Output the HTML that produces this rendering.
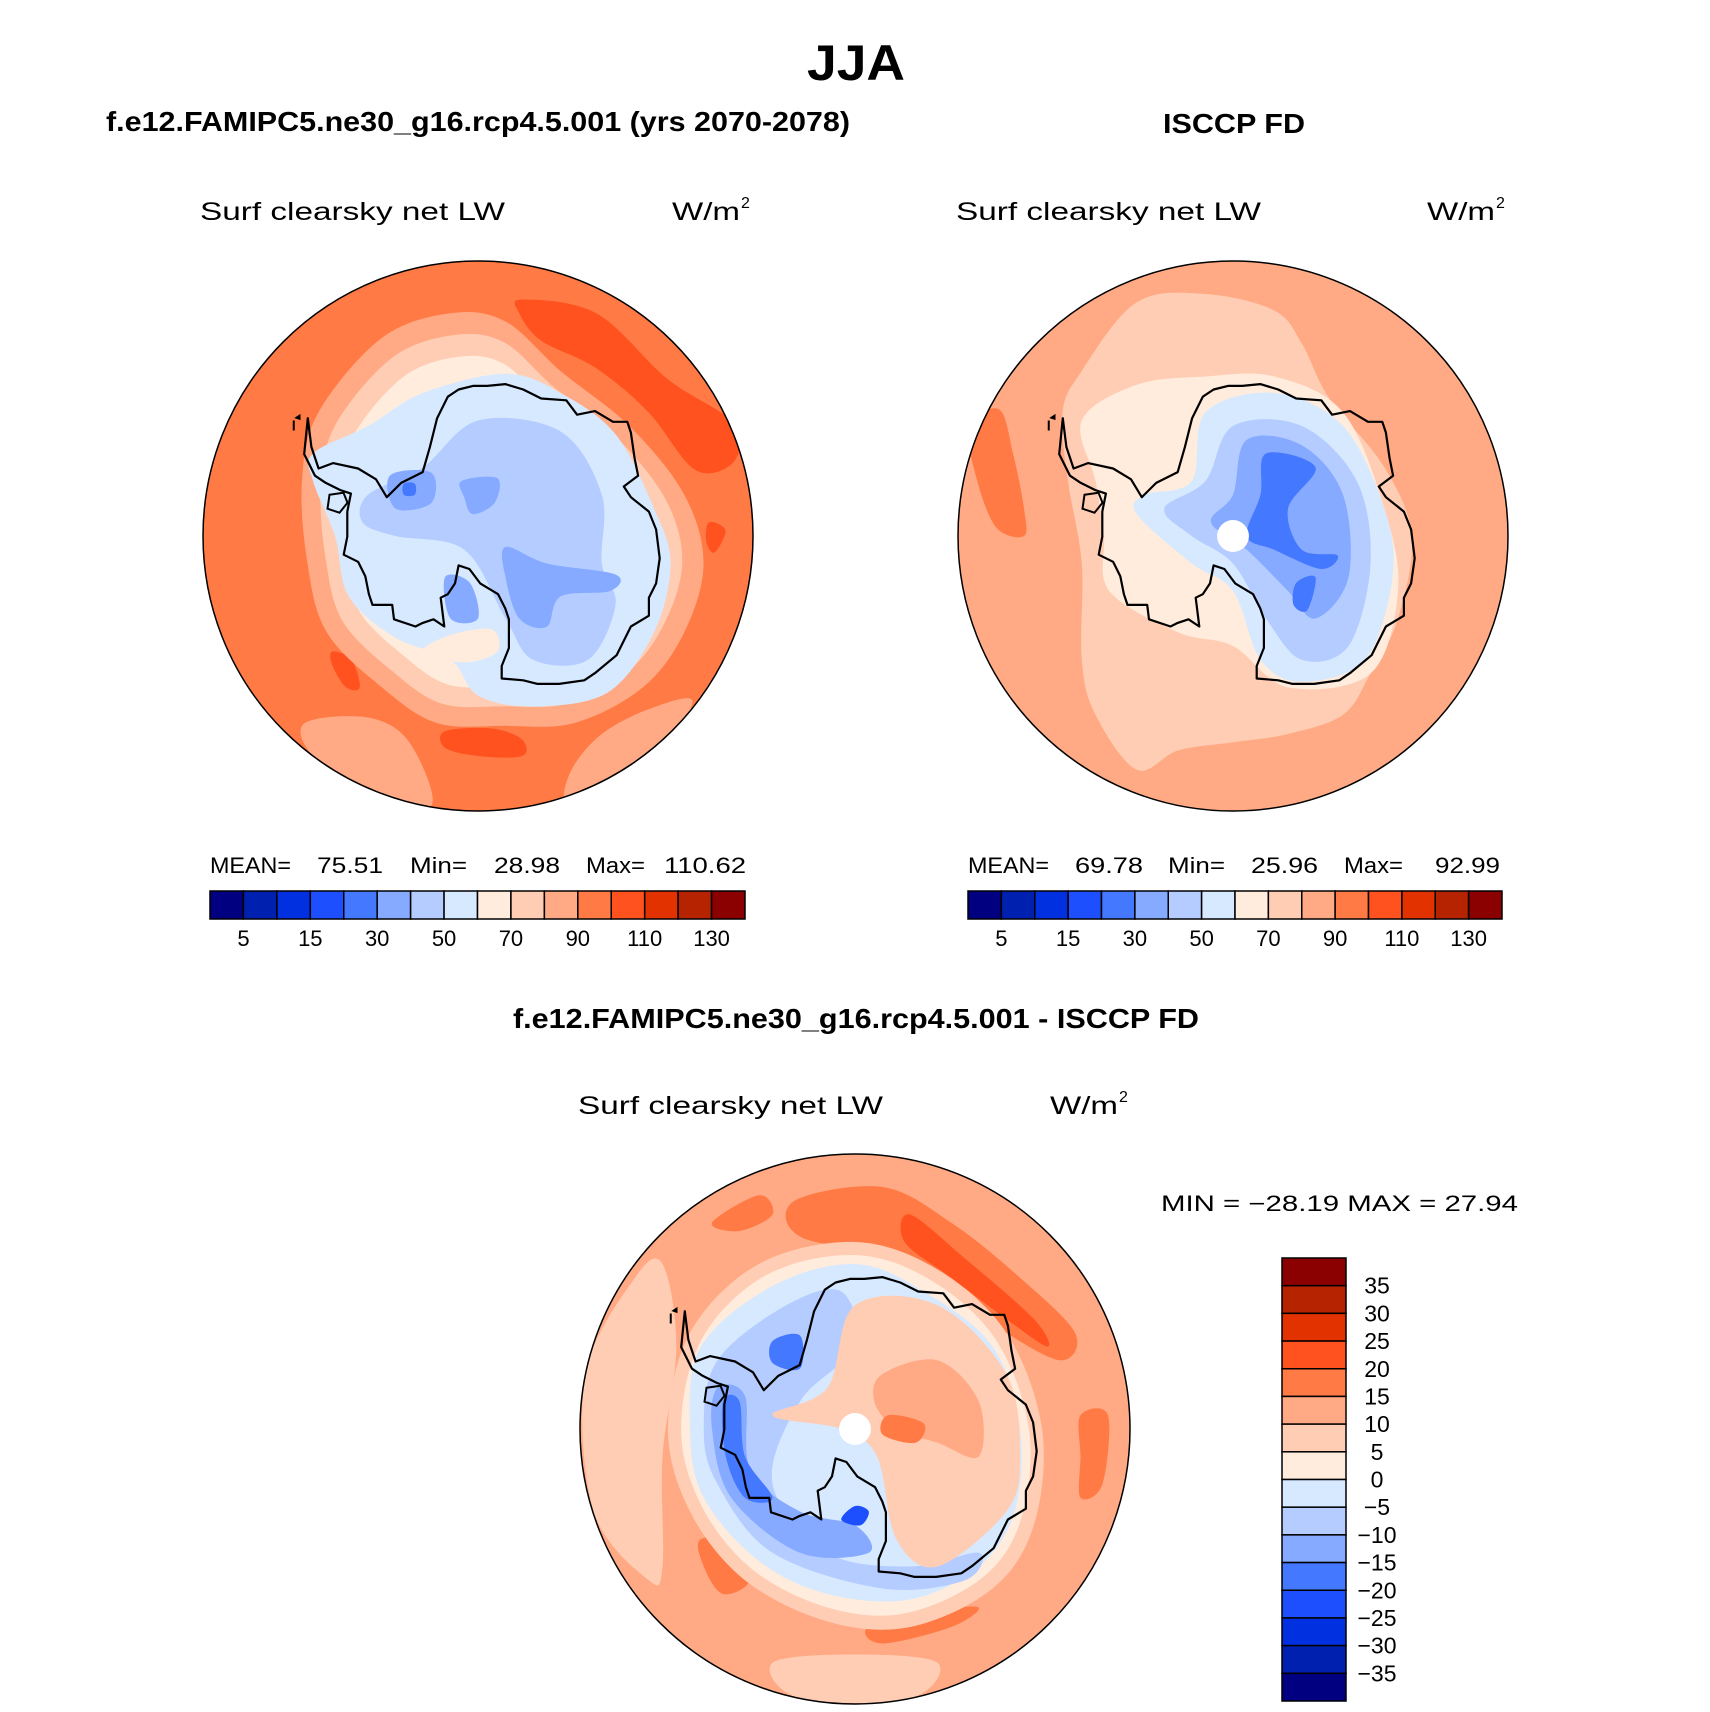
<!DOCTYPE html>
<html><head><meta charset="utf-8"><style>
html,body{margin:0;padding:0;background:#fff;}
svg{display:block;}
text{font-family:"Liberation Sans","DejaVu Sans",sans-serif;}
</style></head>
<body>
<svg id="fig" width="1710" height="1712" viewBox="0 0 1710 1712" xmlns="http://www.w3.org/2000/svg">
<text x="856" y="80" text-anchor="middle" font-size="50" font-weight="bold" textLength="98" lengthAdjust="spacingAndGlyphs">JJA</text>
<text x="106" y="131" font-size="28" font-weight="bold" textLength="744" lengthAdjust="spacingAndGlyphs">f.e12.FAMIPC5.ne30_g16.rcp4.5.001 (yrs 2070-2078)</text>
<text x="1234" y="133" text-anchor="middle" font-size="28" font-weight="bold" textLength="142" lengthAdjust="spacingAndGlyphs">ISCCP FD</text>
<text x="856" y="1028" text-anchor="middle" font-size="28" font-weight="bold" textLength="686" lengthAdjust="spacingAndGlyphs">f.e12.FAMIPC5.ne30_g16.rcp4.5.001 - ISCCP FD</text>
<g id="maps"></g>
<g id="bars"></g>
</svg>
<script>
const NS="http://www.w3.org/2000/svg";
const colors=["#000080","#0020B0","#0030E0","#1E4FFF","#4478FF","#85AAFF","#B4CCFF","#D6E9FF","#FFECDC","#FFCDB4","#FFAA85","#FF7A45","#FF521E","#E23200","#B62300","#8B0000"];
const absLevels=[5,10,15,20,30,40,50,60,70,80,90,100,110,120,130];
const absTickLabels=["5","15","30","50","70","90","110","130"];
const diffLevels=[-35,-30,-25,-20,-15,-10,-5,0,5,10,15,20,25,30,35];
const leftStats=["MEAN=","75.51","Min=","28.98","Max=","110.62"];
const rightStats=["MEAN=","69.78","Min=","25.96","Max=","92.99"];
const diffStats="MIN = \u221228.19  MAX =   27.94";
const coastRaw=[[300,440],[310,520],[330,580],[370,565],[440,580],[490,610],[520,660],[560,620],[620,590],[640,520],[660,440],[690,380],[720,360],[760,350],[800,350],[850,345],[900,360],[950,385],[1020,390],[1050,430],[1100,420],[1150,450],[1190,450],[1200,480],[1210,550],[1220,600],[1180,630],[1200,660],[1250,700],[1270,750],[1280,830],[1270,900],[1250,940],[1250,990],[1200,1020],[1180,1060],[1160,1100],[1100,1150],[1070,1170],[1000,1180],[940,1180],[900,1170],[840,1165],[840,1130],[860,1080],[860,1000],[850,970],[830,930],[780,900],[750,860],[720,850],[710,900],[690,930],[670,940],[680,1020],[650,1000],[620,1010],[600,1020],[540,1000],[535,960],[480,960],[470,930],[460,880],[440,840],[400,820],[410,770],[410,700],[420,650],[390,640],[350,620],[320,600],[290,540]];
const coast=coastRaw.map(p=>[(p[0]-774)/766,(p[1]-768)/766]);
const sc=(pts,s,c)=>pts.map(p=>[c[0]+(p[0]-c[0])*s,c[1]+(p[1]-c[1])*s]);
const ring11L=[[-0.35,-0.72],[-0.1,-0.81],[0.1,-0.78],[0.3,-0.6],[0.55,-0.4],[0.75,-0.15],[0.82,0.1],[0.75,0.35],[0.6,0.55],[0.35,0.68],[0.1,0.69],[-0.15,0.68],[-0.35,0.55],[-0.55,0.35],[-0.62,0.1],[-0.64,-0.2],[-0.58,-0.45]];
const leftRegions=[
 {ci:11,pts:null},
 {ci:12,pts:[[0.16,-0.86],[0.43,-0.81],[0.69,-0.57],[0.93,-0.41],[0.93,-0.27],[0.79,-0.24],[0.62,-0.45],[0.43,-0.61],[0.23,-0.71],[0.15,-0.81]]},
 {ci:12,pts:[[-0.12,0.71],[0.05,0.70],[0.16,0.74],[0.16,0.80],[0.0,0.80],[-0.12,0.77]]},
 {ci:12,pts:[[-0.53,0.42],[-0.46,0.45],[-0.43,0.55],[-0.48,0.55],[-0.53,0.47]]},
 {ci:12,pts:[[0.84,-0.05],[0.9,-0.02],[0.86,0.06],[0.83,0.02]]},
 {ci:10,pts:[[-0.63,0.68],[-0.4,0.66],[-0.25,0.75],[-0.17,0.98],[-0.4,0.93],[-0.6,0.8]]},
 {ci:10,pts:[[0.32,0.97],[0.34,0.85],[0.45,0.72],[0.62,0.63],[0.78,0.6],[0.65,0.8],[0.45,0.93]]},
 {ci:10,pts:ring11L},
 {ci:9,pts:sc(ring11L,0.9,[0.05,-0.02])},
 {ci:8,pts:sc(ring11L,0.8,[0.05,-0.02])},
 {ci:7,pts:[[-0.6,-0.3],[-0.4,-0.4],[-0.2,-0.52],[0.1,-0.59],[0.3,-0.52],[0.5,-0.37],[0.64,-0.1],[0.7,0.1],[0.64,0.35],[0.47,0.57],[0.2,0.62],[0.0,0.58],[-0.1,0.45],[-0.3,0.37],[-0.47,0.22],[-0.52,0.0],[-0.6,-0.2]]},
 {ci:8,pts:[[-0.1,0.36],[0.05,0.34],[0.07,0.42],[-0.05,0.46],[-0.2,0.42]]},
 {ci:6,pts:[[-0.4,-0.15],[-0.2,-0.25],[0.0,-0.42],[0.3,-0.38],[0.45,-0.15],[0.45,0.1],[0.5,0.25],[0.4,0.45],[0.2,0.45],[0.1,0.3],[-0.05,0.05],[-0.3,0.0],[-0.42,-0.05]]},
 {ci:5,pts:[[0.1,0.04],[0.25,0.1],[0.5,0.14],[0.48,0.2],[0.3,0.22],[0.25,0.33],[0.15,0.3],[0.1,0.15]]},
 {ci:5,pts:[[-0.06,-0.2],[0.07,-0.21],[0.06,-0.12],[-0.02,-0.08],[-0.05,-0.14]]},
 {ci:5,pts:[[-0.32,-0.22],[-0.17,-0.23],[-0.17,-0.12],[-0.3,-0.1]]},
 {ci:5,pts:[[-0.12,0.15],[-0.03,0.17],[0.0,0.3],[-0.1,0.3]]},
 {ci:4,pts:[[-0.27,-0.19],[-0.23,-0.19],[-0.23,-0.15],[-0.27,-0.15]]}
];
const rightRegions=[
 {ci:10,pts:null},
 {ci:9,pts:[[-0.55,-0.6],[-0.35,-0.85],[-0.1,-0.88],[0.15,-0.82],[0.25,-0.7],[0.35,-0.5],[0.55,-0.25],[0.65,0.0],[0.6,0.3],[0.5,0.5],[0.4,0.65],[0.2,0.72],[0.0,0.75],[-0.2,0.78],[-0.35,0.85],[-0.5,0.65],[-0.55,0.45],[-0.55,0.1],[-0.6,-0.2],[-0.62,-0.45]]},
 {ci:11,pts:[[-0.96,-0.4],[-0.85,-0.46],[-0.8,-0.3],[-0.76,-0.1],[-0.76,0.0],[-0.86,-0.03],[-0.93,-0.2]]},
 {ci:8,pts:[[-0.55,-0.42],[-0.35,-0.55],[-0.1,-0.58],[0.15,-0.58],[0.4,-0.45],[0.55,-0.1],[0.6,0.2],[0.5,0.5],[0.2,0.55],[0.0,0.4],[-0.2,0.35],[-0.45,0.2],[-0.47,0.0],[-0.5,-0.2]]},
 {ci:7,pts:[[-0.1,-0.45],[0.15,-0.52],[0.4,-0.4],[0.55,-0.1],[0.58,0.15],[0.48,0.45],[0.25,0.53],[0.1,0.45],[0.0,0.2],[-0.15,0.1],[-0.35,-0.08],[-0.32,-0.15],[-0.15,-0.2]]},
 {ci:6,pts:[[0.0,-0.4],[0.25,-0.4],[0.45,-0.2],[0.5,0.1],[0.42,0.4],[0.25,0.45],[0.12,0.3],[0.0,0.1],[-0.15,0.0],[-0.25,-0.1],[-0.1,-0.2]]},
 {ci:5,pts:[[0.05,-0.35],[0.25,-0.33],[0.4,-0.15],[0.42,0.15],[0.3,0.3],[0.2,0.2],[0.05,0.05],[-0.08,-0.05],[0.0,-0.15]]},
 {ci:4,pts:[[0.12,-0.3],[0.3,-0.25],[0.2,-0.1],[0.25,0.05],[0.38,0.07],[0.32,0.12],[0.15,0.05],[0.05,0.0],[0.1,-0.15]]},
 {ci:4,pts:[[0.23,0.17],[0.3,0.15],[0.27,0.27],[0.22,0.25]]}
];
const diffRing10=[[-0.6,-0.35],[-0.35,-0.6],[0.0,-0.68],[0.3,-0.58],[0.55,-0.35],[0.68,0.0],[0.65,0.35],[0.5,0.58],[0.2,0.72],[-0.1,0.7],[-0.4,0.55],[-0.6,0.3],[-0.68,0.0]];
const diffRegions=[
 {ci:10,pts:null},
 {ci:9,pts:[[-0.98,-0.2],[-0.8,-0.55],[-0.7,-0.6],[-0.65,-0.3],[-0.7,0.1],[-0.7,0.5],[-0.75,0.55],[-0.95,0.3]]},
 {ci:9,pts:[[-0.3,0.85],[0.0,0.82],[0.3,0.85],[0.2,0.98],[-0.2,0.98]]},
 {ci:11,pts:[[-0.22,-0.83],[0.1,-0.88],[0.35,-0.75],[0.6,-0.55],[0.8,-0.35],[0.75,-0.25],[0.55,-0.35],[0.35,-0.5],[0.15,-0.62],[-0.2,-0.7]]},
 {ci:12,pts:[[0.2,-0.78],[0.4,-0.62],[0.65,-0.4],[0.7,-0.3],[0.55,-0.4],[0.35,-0.55],[0.18,-0.68]]},
 {ci:11,pts:[[-0.52,-0.75],[-0.35,-0.85],[-0.3,-0.78],[-0.42,-0.72]]},
 {ci:11,pts:[[0.82,-0.05],[0.92,-0.05],[0.9,0.2],[0.82,0.25],[0.82,0.1]]},
 {ci:11,pts:[[-0.56,0.4],[-0.4,0.42],[-0.38,0.55],[-0.48,0.6],[-0.55,0.5]]},
 {ci:11,pts:[[0.05,0.72],[0.3,0.66],[0.45,0.65],[0.35,0.72],[0.1,0.78]]},
 {ci:9,pts:diffRing10},
 {ci:8,pts:sc(diffRing10,0.93,[0,0])},
 {ci:7,pts:[[-0.56,-0.3],[-0.3,-0.52],[0.0,-0.6],[0.25,-0.5],[0.5,-0.3],[0.6,0.0],[0.58,0.3],[0.45,0.5],[0.2,0.62],[-0.1,0.6],[-0.35,0.48],[-0.55,0.25],[-0.6,0.0]]},
 {ci:6,pts:[[-0.5,-0.25],[-0.25,-0.45],[-0.05,-0.5],[0.0,-0.3],[-0.2,-0.1],[-0.3,0.2],[-0.1,0.45],[0.2,0.5],[0.45,0.45],[0.4,0.55],[0.1,0.58],[-0.3,0.45],[-0.5,0.2],[-0.55,0.0]]},
 {ci:5,pts:[[-0.5,-0.15],[-0.4,-0.12],[-0.38,0.15],[-0.2,0.3],[0.0,0.35],[0.05,0.45],[-0.2,0.45],[-0.45,0.25],[-0.52,0.0]]},
 {ci:4,pts:[[-0.48,-0.1],[-0.42,-0.1],[-0.4,0.1],[-0.3,0.25],[-0.4,0.25],[-0.47,0.1]]},
 {ci:4,pts:[[-0.3,-0.32],[-0.2,-0.34],[-0.2,-0.22],[-0.3,-0.24]]},
 {ci:3,pts:[[-0.0,0.28],[0.05,0.3],[0.02,0.35],[-0.05,0.33]]},
 {ci:9,pts:[[0.0,-0.45],[0.3,-0.45],[0.55,-0.2],[0.6,0.1],[0.55,0.3],[0.3,0.5],[0.15,0.4],[0.08,0.1],[-0.05,0.0],[-0.3,-0.05],[-0.1,-0.15]]},
 {ci:10,pts:[[0.1,-0.2],[0.3,-0.25],[0.45,-0.1],[0.45,0.1],[0.3,0.05],[0.15,0.0],[0.07,-0.1]]},
 {ci:11,pts:[[0.12,-0.05],[0.25,-0.02],[0.22,0.05],[0.1,0.02]]}
];
const maps=[
 {name:"model-map",cx:478,cy:536,r:275,regions:leftRegions,pole:false},
 {name:"obs-map",cx:1233,cy:536,r:275,regions:rightRegions,pole:true},
 {name:"diff-map",cx:855,cy:1429,r:275,regions:diffRegions,pole:true}
];
function smooth(P){
 let n=P.length,d="M"+P[0][0].toFixed(1)+","+P[0][1].toFixed(1);
 for(let i=0;i<n;i++){
  const p0=P[(i-1+n)%n],p1=P[i],p2=P[(i+1)%n],p3=P[(i+2)%n];
  const c1=[p1[0]+(p2[0]-p0[0])/6,p1[1]+(p2[1]-p0[1])/6];
  const c2=[p2[0]-(p3[0]-p1[0])/6,p2[1]-(p3[1]-p1[1])/6];
  d+="C"+c1.map(v=>v.toFixed(1))+" "+c2.map(v=>v.toFixed(1))+" "+p2.map(v=>v.toFixed(1));
 }
 return d+"Z";
}
const mg=document.getElementById("maps");
maps.forEach((m,mi)=>{
 const X=u=>m.cx+u*m.r, Y=v=>m.cy+v*m.r;
 const g=document.createElementNS(NS,"g");
 
 
 const cp=document.createElementNS(NS,"clipPath");cp.setAttribute("id","clip"+mi);
 const cc=document.createElementNS(NS,"circle");cc.setAttribute("cx",m.cx);cc.setAttribute("cy",m.cy);cc.setAttribute("r",m.r);
 cp.appendChild(cc);g.appendChild(cp);
 const inner=document.createElementNS(NS,"g");inner.setAttribute("clip-path","url(#clip"+mi+")");
 m.regions.forEach(rg=>{
  let el;
  if(!rg.pts){el=document.createElementNS(NS,"circle");el.setAttribute("cx",m.cx);el.setAttribute("cy",m.cy);el.setAttribute("r",m.r);}
  else{el=document.createElementNS(NS,"path");el.setAttribute("d",smooth(rg.pts.map(p=>[X(p[0]),Y(p[1])])));}
  el.setAttribute("fill",colors[rg.ci]);
  
  
  inner.appendChild(el);
 });
 const cl=document.createElementNS(NS,"path");
 cl.setAttribute("d","M"+coast.map(p=>X(p[0]).toFixed(1)+","+Y(p[1]).toFixed(1)).join("L")+"Z");
 cl.setAttribute("fill","none");cl.setAttribute("stroke","#000");cl.setAttribute("stroke-width","2.2");cl.setAttribute("stroke-linejoin","round");
 
 
 inner.appendChild(cl);
 const isl=document.createElementNS(NS,"path");
 isl.setAttribute("d",`M${X(-0.66)},${Y(-0.43)}l3,-2l0,3z M${X(-0.67)},${Y(-0.42)}l0,10 M${X(-0.54)},${Y(-0.15)}l14,-2l4,10l-8,10l-12,-4z`);
 isl.setAttribute("fill","none");isl.setAttribute("stroke","#000");isl.setAttribute("stroke-width","2");
 
 
 inner.appendChild(isl);
 if(m.pole){const pc=document.createElementNS(NS,"circle");pc.setAttribute("cx",m.cx);pc.setAttribute("cy",m.cy);pc.setAttribute("r",m.r*0.058);pc.setAttribute("fill","#fff");
  
  
  inner.appendChild(pc);}
 g.appendChild(inner);
 const bd=document.createElementNS(NS,"circle");bd.setAttribute("cx",m.cx);bd.setAttribute("cy",m.cy);bd.setAttribute("r",m.r);bd.setAttribute("fill","none");bd.setAttribute("stroke","#000");bd.setAttribute("stroke-width","1.5");
 
 
 g.appendChild(bd);
 mg.appendChild(g);
});
const bg=document.getElementById("bars");
function txt(x,y,s,size,anchor,name,tl){
 const t=document.createElementNS(NS,"text");t.setAttribute("x",x);t.setAttribute("y",y);t.setAttribute("font-size",size);
 if(anchor)t.setAttribute("text-anchor",anchor);
 if(tl){t.setAttribute("textLength",tl);t.setAttribute("lengthAdjust","spacingAndGlyphs");}
 t.textContent=s;
 
 
 bg.appendChild(t);return t;
}
[[200,755,220],[956,1510,220],[578,1133,1114]].forEach((p,i)=>{
 txt(p[0],p[2],"Surf clearsky net LW",25,null,"variable-label",305);
 txt(p[1]-83,p[2],"W/m",25,null,"units-label",68);
 txt(p[1]-14,p[2]-12,"2",16,null,"units-exponent");
});
const statPos=[[0,81],[107,66],[200,57],[284,66],[376,59],[454,82]];
const statPosR=[[0,81],[107,68],[200,57],[283,67],[376,59],[467,65]];
[[210,745,leftStats,statPos],[968,1502,rightStats,statPosR]].forEach((b,bi)=>{
 const x0=b[0],x1=b[1],w=(x1-x0)/colors.length;
 b[2].forEach((s,i)=>txt(x0+b[3][i][0],873,s,22,null,"stats-text",b[3][i][1]));
 colors.forEach((c,i)=>{
  const r=document.createElementNS(NS,"rect");
  r.setAttribute("x",x0+i*w);r.setAttribute("y",891);r.setAttribute("width",w);r.setAttribute("height",28);
  r.setAttribute("fill",c);r.setAttribute("stroke","#000");r.setAttribute("stroke-width","1.5");
  
  
  bg.appendChild(r);
 });
 absLevels.forEach((lv,i)=>{
  if(i%2===0) txt(x0+(i+1)*w,946,absTickLabels[i/2],22,"middle","colorbar-tick-label");
 });
});
txt(1161,1211,diffStats,22,null,"min-max-text",357);
{
 const y0=1258,h=(1701-1258)/colors.length;
 colors.slice().reverse().forEach((c,i)=>{
  const r=document.createElementNS(NS,"rect");
  r.setAttribute("x",1282);r.setAttribute("y",y0+i*h);r.setAttribute("width",64);r.setAttribute("height",h);
  r.setAttribute("fill",c);r.setAttribute("stroke","#000");r.setAttribute("stroke-width","1.5");
  
  
  bg.appendChild(r);
 });
 diffLevels.slice().reverse().forEach((lv,i)=>{
  txt(1377,y0+(i+1)*h+8,(lv<0?"\u2212":"")+Math.abs(lv),23,"middle","diff-colorbar-tick-label");
 });
}
</script>
</body></html>
